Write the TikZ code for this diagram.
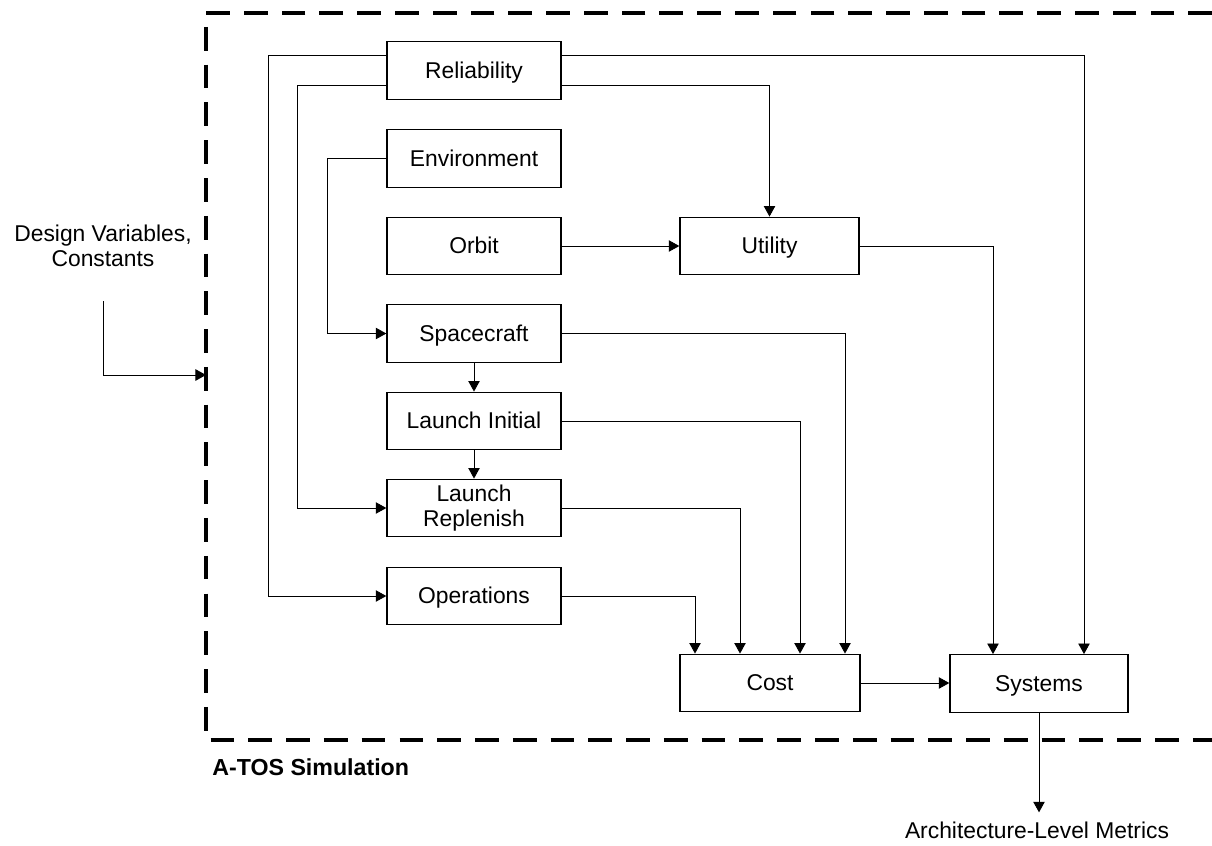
\documentclass[tikz,border=0pt]{standalone}
\usepackage{fontspec}
\setmainfont{Liberation Sans}
\usetikzlibrary{arrows.meta,calc}
\begin{document}
\begin{tikzpicture}[x=0.02cm,y=-0.02cm,
  font=\fontsize{13}{14.6}\selectfont,
  blockbase/.style={draw,line width=0.8pt,minimum width=3.48cm,minimum height=1.15cm,
    inner sep=0pt,align=center},
  block/.style={blockbase,text height=10pt,text depth=1.2pt},
  wire/.style={line width=0.5pt},
  arr/.style={wire,-{Triangle[length=6pt,width=6.5pt]}},
  frame/.style={line width=2.6pt,dash pattern=on 13.5pt off 8pt}]
\useasboundingbox (0,0) rectangle (1212,845);

% simulation boundary
\coordinate (fTR) at (1212,13);
\coordinate (fTL) at (206,13);
\coordinate (fBL) at (206,740);
\coordinate (fBR) at (1212,740);
\draw[frame] (fTR) -- (fTL) -- (fBL) -- (fBR);

% modules
\node[block] (rel) at (474,70.5)  {Reliability};
\node[block] (env) at (474,158.5) {Environment};
\node[block] (orb) at (474,246)   {Orbit};
\node[block] (sc)  at (474,333.5) {Spacecraft};
\node[block] (li)  at (474,421)   {Launch Initial};
\node[blockbase] (lr) at (474,508) {Launch\\Replenish};
\node[block] (ops) at (474,596)   {Operations};
\node[block,minimum width=3.58cm] (util) at (769.5,246) {Utility};
\node[block,minimum width=3.6cm]  (cost) at (770,683)   {Cost};
\node[block,minimum width=3.56cm] (sys)  at (1039,683.5) {Systems};

% external labels
\node[inner sep=0pt,align=center] (dv) at (103,246) {Design Variables,\\Constants};
\node[anchor=base west,inner sep=0pt,font=\fontsize{13.2}{15}\selectfont\bfseries]
  (atos) at (212,775) {A-TOS Simulation};
\node[anchor=north,inner sep=0pt] (arch) at (1037,822) {Architecture-Level Metrics};

% routing columns
\coordinate (busOps)  at (268,0);
\coordinate (busLR)   at (297,0);
\coordinate (busEnv)  at (327,0);
\coordinate (busSys)  at (1084,0);
\coordinate (busUtil) at (993,0);
\coordinate (busSc)   at (845,0);
\coordinate (busLi)   at (800,0);
\coordinate (busLr)   at (740,0);
\coordinate (busOp)   at (695,0);

% taps on the reliability block
\coordinate (relWu) at ($(rel.north west)!0.25!(rel.south west)$);
\coordinate (relWl) at ($(rel.north west)!0.75!(rel.south west)$);
\coordinate (relEu) at ($(rel.north east)!0.25!(rel.south east)$);
\coordinate (relEl) at ($(rel.north east)!0.75!(rel.south east)$);

% inputs
\coordinate (entryTop) at (103,301);
\coordinate (entryIn)  at (206,375);
\draw[arr] (entryTop) |- (entryIn);

% left-hand feeds
\draw[arr] (relWu) -| (busOps |- ops.west) -- (ops.west);
\draw[arr] (relWl) -| (busLR |- lr.west) -- (lr.west);
\draw[arr] (env.west) -| (busEnv |- sc.west) -- (sc.west);

% right-hand feeds
\draw[arr] (relEu) -| (busSys |- sys.north);
\draw[arr] (relEl) -| (util.north);
\draw[arr] (orb.east) -- (util.west);
\draw[arr] (util.east) -| (busUtil |- sys.north);
\draw[arr] (sc.east) -| (busSc |- cost.north);
\draw[arr] (li.east) -| (busLi |- cost.north);
\draw[arr] (lr.east) -| (busLr |- cost.north);
\draw[arr] (ops.east) -| (busOp |- cost.north);

% chain
\draw[arr] (sc.south) -- (li.north);
\draw[arr] (li.south) -- (lr.north);
\draw[arr] (cost.east) -- (cost.east -| sys.west);
\draw[arr,shorten >=5.5pt] (sys.south) -- (sys.south |- arch.north);
\end{tikzpicture}
\end{document}
